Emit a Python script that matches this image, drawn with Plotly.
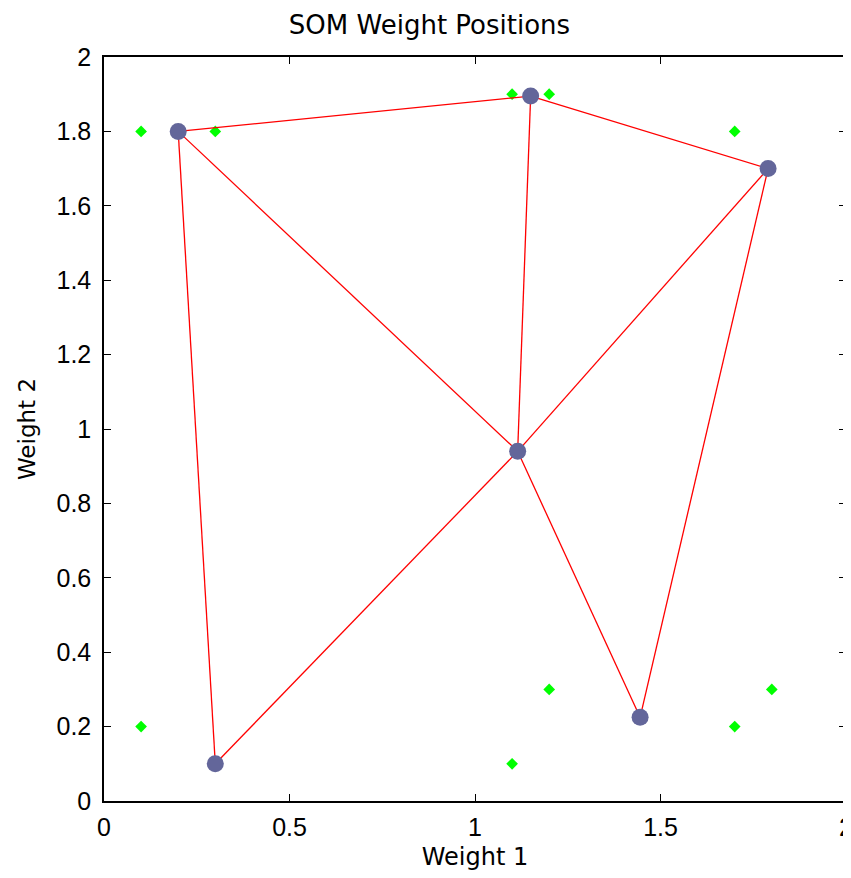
import plotly.graph_objects as go

# input vectors (green)
input_x = [0.1, 0.3, 1.1, 1.2, 1.7, 0.1, 1.1, 1.2, 1.7, 1.8]
input_y = [1.8, 1.8, 1.9, 1.9, 1.8, 0.2, 0.1, 0.3, 0.2, 0.3]

# SOM neuron weights
neuron_x = [0.3, 1.445, 1.115, 0.2, 1.15, 1.79]
neuron_y = [0.1, 0.225, 0.94, 1.8, 1.895, 1.70]

# neighbour links (index pairs into neuron lists)
links = [(0, 3), (0, 2), (1, 2), (1, 5), (2, 3), (2, 4), (2, 5), (3, 4), (4, 5)]

link_x, link_y = [], []
for a, b in links:
    link_x += [neuron_x[a], neuron_x[b], None]
    link_y += [neuron_y[a], neuron_y[b], None]

tick_font = dict(family="Liberation Sans, Arial", size=25, color="black")
title_font = "DejaVu Sans, sans-serif"

fig = go.Figure()
fig.add_trace(go.Scatter(x=input_x, y=input_y, mode="markers",
                         marker=dict(symbol="diamond", size=9, color="#00ff00")))
fig.add_trace(go.Scatter(x=link_x, y=link_y, mode="lines",
                         line=dict(color="#ff0000", width=1.3)))
fig.add_trace(go.Scatter(x=neuron_x, y=neuron_y, mode="markers",
                         marker=dict(size=17, color="#63669a")))

axis = dict(range=[0, 2], showgrid=False, zeroline=False, showline=True,
            linecolor="black", linewidth=1.5, mirror="ticks", ticks="inside",
            ticklen=7, tickcolor="black", tickfont=tick_font, automargin=False,
            ticklabeloverflow="allow")

# page body adds an 8px margin, so the figure is sized a bit smaller
fig.update_layout(
    width=843, height=870, template="plotly_white", showlegend=False,
    margin=dict(l=96, r=5, t=49, b=77),
    font=dict(family=title_font, color="black"),
    title=dict(text="SOM Weight Positions", x=0.5, xanchor="center",
               y=1 - 17 / 870, yanchor="middle", font=dict(size=26)),
    xaxis=dict(axis, dtick=0.5, ticklabelstandoff=3, automargin="bottom",
               title=dict(text="Weight 1", font=dict(size=24), standoff=8)),
    yaxis=dict(axis, dtick=0.2, ticklabelstandoff=6,
               title=dict(text="Weight 2", font=dict(size=23), standoff=14)),
    plot_bgcolor="white", paper_bgcolor="white",
)

fig.write_html("out.html")
